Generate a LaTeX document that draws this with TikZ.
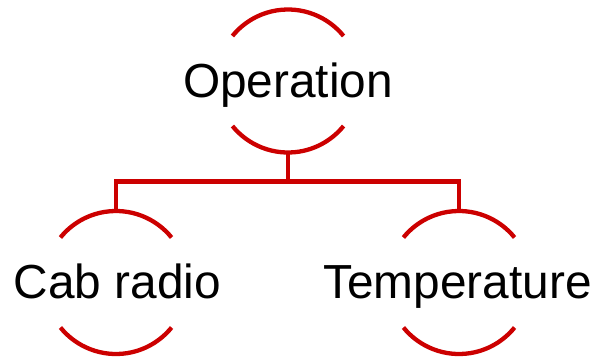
\documentclass[tikz,border=0pt]{standalone}
\usepackage{fontspec}
\setmainfont{Liberation Sans}
\definecolor{arcred}{RGB}{204,0,0}
\tikzset{
  ring/.style={circle, minimum size=143pt, inner sep=0pt, outer sep=0pt},
  arcline/.style={draw=arcred, line width=4.3pt},
  conn/.style={draw=arcred, line width=4.3pt, line join=miter},
  lbl/.style={font=\fontsize{47.8}{56}\selectfont, inner sep=0pt, anchor=base, text=black}
}
\newcommand{\ringarcs}[1]{%
  \draw[arcline] ([shift={(39:71.5pt)}]#1.center) arc[start angle=39, end angle=141, radius=71.5pt];
  \draw[arcline] ([shift={(219:71.5pt)}]#1.center) arc[start angle=219, end angle=321, radius=71.5pt];
}
\begin{document}
\begin{tikzpicture}[x=1pt,y=1pt]
\useasboundingbox (0,0) rectangle (600,-357);
\node[ring] (op) at (288,-81) {};
\node[ring] (cab) at (116,-282.5) {};
\node[ring] (temp) at (459,-282.5) {};
\ringarcs{op}
\ringarcs{cab}
\ringarcs{temp}
\node[lbl] (opl) at (288,-97) {Operation};
\node[lbl] (cabl) at (117.5,-298) {Cab radio};
\node[lbl] (templ) at (457.5,-298) {Temperature};
\coordinate (bus) at (288,-181.5);
\draw[conn] (op.south) -- (bus);
\draw[conn] (cab.north) |- (bus) -| (temp.north);
\end{tikzpicture}
\end{document}
